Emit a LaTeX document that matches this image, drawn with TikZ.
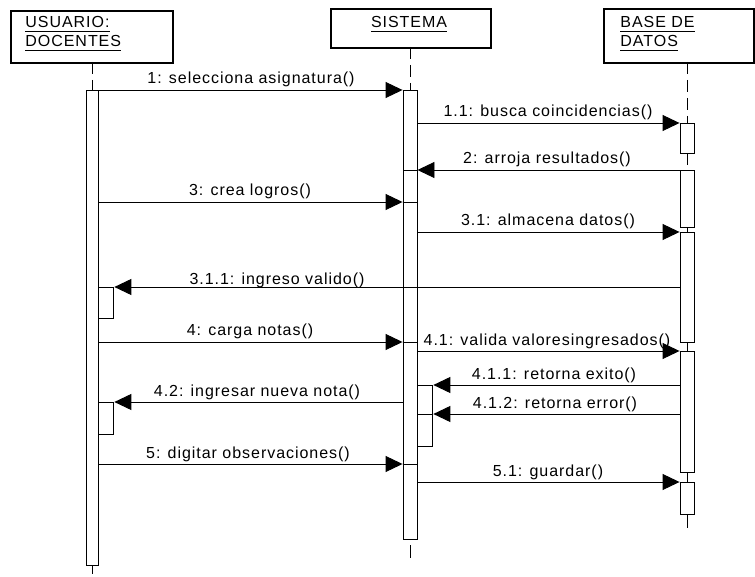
\documentclass[tikz,border=0pt]{standalone}
\usepackage{fontspec}
\setmainfont{Liberation Sans}[LetterSpace=6]
\usepackage{tikz}
\usetikzlibrary{positioning,arrows.meta}

\newcommand{\ulined}[1]{\setbox0=\hbox{#1}\rlap{\rule[-3.5pt]{\wd0}{0.9pt}}\box0}

\begin{document}
\begin{tikzpicture}[
      x=1pt, y=-1pt,
      line width=0.9pt,
      every node/.style={font=\fontsize{16}{19}\selectfont, inner sep=0pt},
      header/.style={draw, line width=2.4pt, anchor=north west},
      actbar/.style={draw, fill=white, minimum width=14pt, anchor=north},
      nested/.style={draw, fill=white, minimum width=15pt, anchor=north west},
      lifeline/.style={dash pattern=on 12pt off 6pt},
      msg/.style={-{Triangle[length=17pt,width=16pt]}},
      lbl/.style={anchor=base}
    ]
      \useasboundingbox (0,0) rectangle (755,577);

      % Objects
      \node[header, minimum width=162pt, minimum height=52pt] (usuario) at (10,10) {};
      \node[header, minimum width=160pt, minimum height=39pt] (sistema) at (330,8) {};
      \node[header, minimum width=150pt, minimum height=54pt] (bd) at (603,8) {};

      \node[anchor=base west] (usuario1) at (25,28) {\ulined{USUARIO:}};
      \node[anchor=base west] (usuario2) at (25,47) {\ulined{DOCENTES}};
      \node[anchor=base] (sistema1) at (409,28) {\ulined{SISTEMA}};
      \node[anchor=base west] (bd1txt) at (620,28) {\ulined{BASE DE}};
      \node[anchor=base west] (bd2txt) at (620,47) {\ulined{DATOS}};

      % Message levels
      \foreach \y/\m in {90/m1, 123/m11, 170/m2, 202/m3, 232/m31, 287/m311,
                         342/m4, 351/m41, 385/m411, 402/m42, 414/m412,
                         464/m5, 482/m51}
        \coordinate (\m) at (0,\y);
      \coordinate (uend) at (92,574);
      \coordinate (send) at (410,558);
      \coordinate (bdend) at (687,528);

      % Lifelines
      \draw[lifeline] (92,62) -- (92,90);
      \draw[lifeline] (410,47) -- (410,90);
      \draw[lifeline] (687,62) -- (687,123);
      \draw[lifeline] (687,153) -- (687,170);
      \draw (687,227) -- (687,232);
      \draw (687,342) -- (687,351);
      \draw (687,472) -- (687,482);
      \draw (687,514) -- (bdend);
      \draw (92,565) -- (uend);
      \draw (410,545) -- (send);

      % Activations
      \node[actbar, minimum width=12pt, minimum height=475pt] (uact) at (92,90) {};
      \node[actbar, minimum height=449pt] (sact) at (410,90) {};
      \node[actbar, minimum height=30pt] (bdact1) at (687,123) {};
      \node[actbar, minimum height=57pt] (bdact2) at (687,170) {};
      \node[actbar, minimum height=110pt] (bdact3) at (687,232) {};
      \node[actbar, minimum height=121pt] (bdact4) at (687,351) {};
      \node[actbar, minimum height=32pt] (bdact5) at (687,482) {};

      \node[nested, minimum height=31pt] (unest1) at (uact.east |- m311) {};
      \node[nested, minimum height=32pt] (unest2) at (uact.east |- m42) {};
      \node[nested, minimum height=61pt] (snest) at (sact.east |- m411) {};

      % Messages
      \draw[msg] (uact.east |- m1) -- (sact.west |- m1);
      \draw[msg] (sact.east |- m11) -- (bdact1.north west);
      \draw[msg] (bdact2.north west) -- (sact.east |- m2);
      \draw (sact.east |- m2) -- (sact.west |- m2);
      \draw[msg] (uact.east |- m3) -- (sact.west |- m3);
      \draw (sact.west |- m3) -- (sact.east |- m3);
      \draw[msg] (sact.east |- m31) -- (bdact3.north west);
      \draw[msg] (bdact3.west |- m311) -- (unest1.north east);
      \draw[msg] (uact.east |- m4) -- (sact.west |- m4);
      \draw (sact.west |- m4) -- (sact.east |- m4);
      \draw[msg] (sact.east |- m41) -- (bdact4.north west);
      \draw[msg] (bdact4.west |- m411) -- (snest.north east);
      \draw[msg] (bdact4.west |- m412) -- (snest.east |- m412);
      \draw (snest.east |- m412) -- (snest.west |- m412);
      \draw[msg] (sact.west |- m42) -- (unest2.north east);
      \draw[msg] (uact.east |- m5) -- (sact.west |- m5);
      \draw (sact.west |- m5) -- (sact.east |- m5);
      \draw[msg] (sact.east |- m51) -- (bdact5.north west);

      % Labels
      \node[lbl] (l1) at (251,84) {1: selecciona asignatura()};
      \node[lbl] (l11) at (548,117) {1.1: busca coincidencias()};
      \node[lbl] (l2) at (547,164) {2: arroja resultados()};
      \node[lbl] (l3) at (250,196) {3: crea logros()};
      \node[lbl] (l31) at (548,226) {3.1: almacena datos()};
      \node[lbl] (l311) at (277,285) {3.1.1: ingreso valido()};
      \node[lbl] (l4) at (250,336) {4: carga notas()};
      \node[lbl] (l41) at (547,345) {4.1: valida valoresingresados()};
      \node[lbl] (l411) at (554,379) {4.1.1: retorna exito()};
      \node[lbl] (l412) at (555,408) {4.1.2: retorna error()};
      \node[lbl] (l42) at (257,396) {4.2: ingresar nueva nota()};
      \node[lbl] (l5) at (248,458) {5: digitar observaciones()};
      \node[lbl] (l51) at (548,476) {5.1: guardar()};

    \end{tikzpicture}
\end{document}
